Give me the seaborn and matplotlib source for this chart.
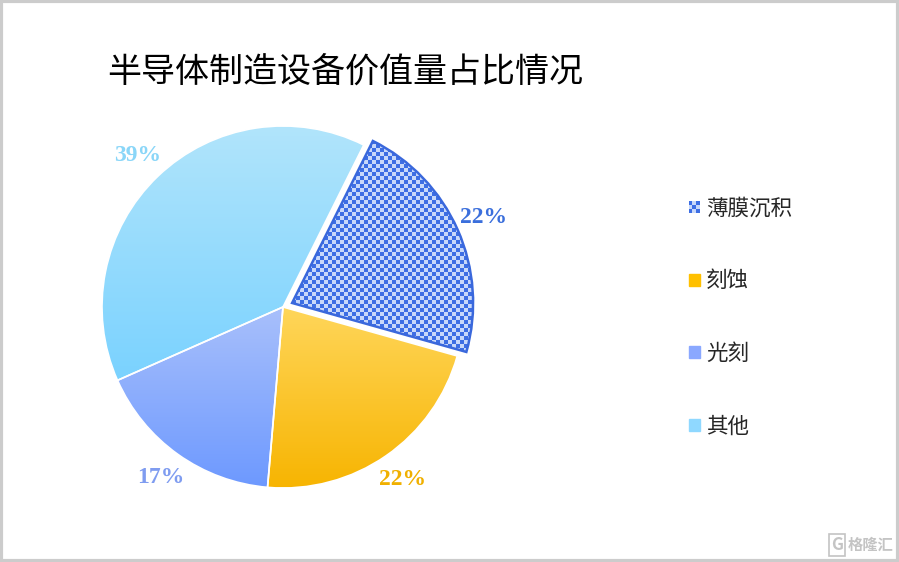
import numpy as np
import seaborn as sns
import matplotlib.pyplot as plt
import matplotlib.patches as mpatches
from matplotlib.colors import LinearSegmentedColormap
from matplotlib.legend_handler import HandlerBase

# Data
labels = ['薄膜沉积', '刻蚀', '光刻', '其他']
shares = [22, 22, 17, 39]

# Styles
legend_colors = ['#6f95ee', '#ffc000', '#8aa8ff', '#8fd8ff']
gradients = [None, ('#ffd65a', '#f7b400'), ('#a9c0fb', '#6d99ff'), ('#b2e5fb', '#7ad2ff')]
pct_colors = ['#3b6fdc', '#f0b000', '#7f9cf0', '#8ad6f8']
checker_dark, checker_light = '#3d6ee4', '#c8d8fa'

sns.set_theme(style='white')
plt.rcParams['font.family'] = ['Noto Sans CJK SC', 'DejaVu Sans']

fig = plt.figure(figsize=(8.99, 5.62), dpi=100)
fig.patch.set_facecolor('white')

# axes placed so the pie centre sits at (283, 307) px with radius ~181 px
L = 1.3
W = 2 * L * 181
ax = fig.add_axes([(283 - W / 2) / 899, (562 - 307 - W / 2) / 562, W / 899, W / 562])

wedges, texts, autotexts = ax.pie(
    shares,
    explode=[0.055, 0, 0, 0],
    startangle=63.5,
    counterclock=False,
    colors=legend_colors,
    autopct='%d%%',
    pctdistance=1.16,
    wedgeprops={'edgecolor': 'white', 'linewidth': 1.2},
    textprops={'family': 'Liberation Serif', 'weight': 'bold', 'fontsize': 17},
)
for t, c in zip(autotexts, pct_colors):
    t.set_color(c)

# fill the wedges: checker texture for the first, vertical gradients for the rest
for i, w in enumerate(wedges):
    verts = w.get_path().vertices
    x0, y0 = verts.min(axis=0)
    x1, y1 = verts.max(axis=0)
    if gradients[i] is None:
        step = 4 / 181
        nx = int((x1 - x0) / step) + 1
        ny = int((y1 - y0) / step) + 1
        board = np.indices((ny, nx)).sum(axis=0) % 2
        cmap = LinearSegmentedColormap.from_list('chk', [checker_dark, checker_light])
        im = ax.imshow(board, extent=(x0, x0 + nx * step, y0, y0 + ny * step),
                       cmap=cmap, interpolation='nearest', aspect='auto', zorder=2)
        im.set_clip_path(w)
        ax.add_patch(mpatches.PathPatch(w.get_path(), fill=False, ec='#3a68dc',
                                        lw=1.8, zorder=3))
    else:
        grad = np.linspace(0, 1, 256).reshape(-1, 1)
        cmap = LinearSegmentedColormap.from_list('g%d' % i, list(gradients[i]))
        im = ax.imshow(grad, extent=(x0, x1, y0, y1), cmap=cmap,
                       aspect='auto', zorder=2)
        im.set_clip_path(w)
        ax.add_patch(mpatches.PathPatch(w.get_path(), fill=False, ec='white',
                                        lw=1.2, zorder=3))

for t in autotexts:
    t.set_zorder(5)

ax.set_xlim(-L, L)
ax.set_ylim(-L, L)
ax.set_aspect('equal')
ax.axis('off')


class CheckerHandler(HandlerBase):
    def create_artists(self, legend, orig_handle, xdescent, ydescent,
                       width, height, fontsize, trans):
        n = 3
        cw, ch = width / n, height / n
        arts = []
        for r in range(n):
            for c in range(n):
                col = checker_dark if (r + c) % 2 == 0 else checker_light
                arts.append(mpatches.Rectangle((-xdescent + c * cw, -ydescent + r * ch),
                                               cw, ch, fc=col, ec='none', transform=trans))
        return arts


handles = [mpatches.Patch(color=c) for c in legend_colors]
fig.legend(
    handles, labels,
    loc='upper left',
    bbox_to_anchor=(678 / 899, 1 - 187 / 562),
    frameon=False,
    fontsize=15.5,
    handlelength=0.5,
    handleheight=0.5,
    handletextpad=0.3,
    labelspacing=2.35,
    borderpad=0,
    handler_map={handles[0]: CheckerHandler()},
)

# Title
fig.text(107 / 899, 1 - 72 / 562, '半导体制造设备价值量占比情况',
         fontsize=24.5, color='black', ha='left', va='center')

# watermark
fig.text(893 / 899, 1 - 545 / 562, '格隆汇', fontsize=11, color='#c4c4c4',
         ha='right', va='center', weight='bold')
fig.text(843 / 899, 1 - 545 / 562, 'G', fontsize=12, color='#c4c4c4',
         ha='right', va='center', weight='bold',
         bbox={'boxstyle': 'square,pad=0.1', 'fc': 'none', 'ec': '#c4c4c4', 'lw': 1.2})

# border
fig.patches.append(mpatches.Rectangle((0.0015, 0.002), 0.997, 0.996, fill=False,
                                      ec='#cccccc', lw=3, transform=fig.transFigure))

fig.savefig('out.png', dpi=100)
